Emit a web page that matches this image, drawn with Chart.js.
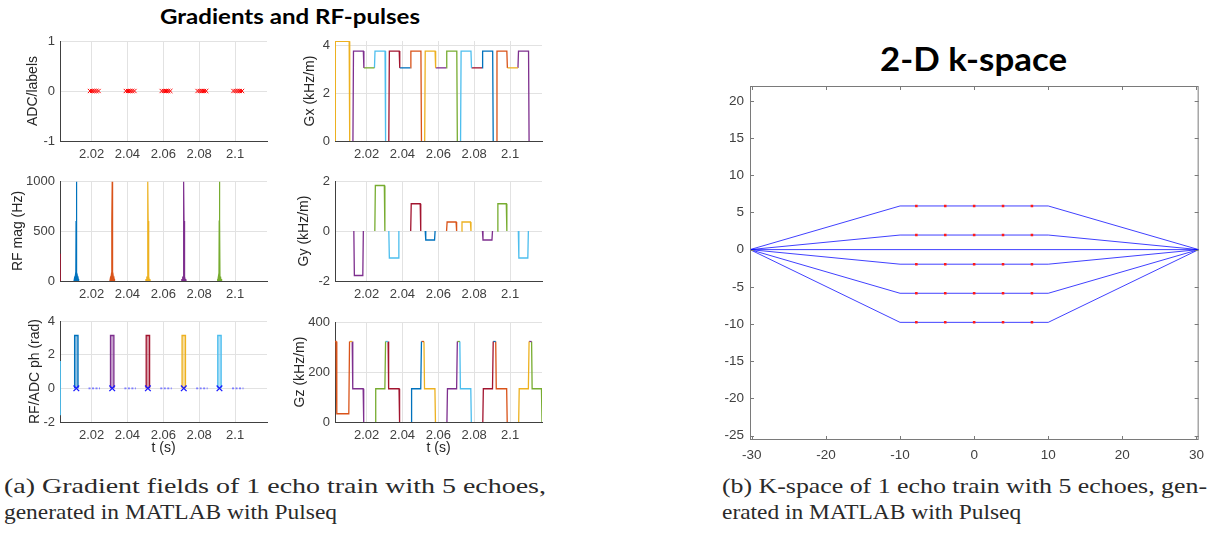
<!DOCTYPE html>
<html>
<head>
<meta charset="utf-8">
<script src="https://cdn.jsdelivr.net/npm/chart.js@4.4.1/dist/chart.umd.min.js"></script>
<style>
  body { margin: 0; background: #fff; width: 1214px; height: 539px; position: relative; overflow: hidden; }
  canvas { position: absolute; }
  .txt { position: absolute; white-space: nowrap; transform-origin: left top; line-height: 1; }
  .ttl { font-family: Lato, 'Open Sans', sans-serif; font-weight: 700; color: #000; }
  .cap { font-family: 'Liberation Serif', 'Times New Roman', Times, serif; color: #2a2a2a; }
</style>
</head>
<body>
<div class="txt ttl" id="title1" style="left:160px; top:6px; font-size:20.4px">Gradients and RF-pulses</div>
<div class="txt ttl" id="title2" style="left:880px; top:43px; font-size:32.4px">2-D k-space</div>
<div class="txt cap" id="capA1" style="left:4px; top:476px; font-size:21.5px">(a) Gradient fields of 1 echo train with 5 echoes,</div>
<div class="txt cap" id="capA2" style="left:4px; top:502px; font-size:21.5px">generated in MATLAB with Pulseq</div>
<div class="txt cap" id="capB1" style="left:722px; top:476px; font-size:21.5px">(b) K-space of 1 echo train with 5 echoes, gen-</div>
<div class="txt cap" id="capB2" style="left:722px; top:502px; font-size:21.5px">erated in MATLAB with Pulseq</div>

<script>
// ---- colours (MATLAB default order) ----
const BLUE = '#0072BD', ORANGE = '#D95319', YELLOW = '#EDB120', PURPLE = '#7E2F8E',
      GREEN = '#77AC30', LBLUE = '#4DBEEE', DRED = '#A2142F';

// ---- shared time axis ----
const timeRange = [2.0024, 2.1178];
const timeTicks = [2.02, 2.04, 2.06, 2.08, 2.1];

// ---- ADC panel ----
const adcTicks = [-1, 0, 1];
const adcTimes = [
  2.0191, 2.0203, 2.0215, 2.0227, 2.0239,
  2.0391, 2.0403, 2.0415, 2.0427, 2.0439,
  2.0591, 2.0603, 2.0615, 2.0627, 2.0639,
  2.0791, 2.0803, 2.0815, 2.0827, 2.0839,
  2.0991, 2.1003, 2.1015, 2.1027, 2.1039
];
const adcWindows = [[2.0183, 2.0247], [2.0383, 2.0447], [2.0583, 2.0647], [2.0783, 2.0847], [2.0983, 2.1047]];

// ---- RF magnitude panel ----
const rfMagTicks = [0, 500, 1000];
const rfCenters = [2.0115, 2.0315, 2.0514, 2.0714, 2.0913];
const rfMagColors = [BLUE, ORANGE, YELLOW, PURPLE, GREEN];
const rfPulseDt  = [-0.0013, -0.0011, -0.0009, -0.0006, -0.0003, -0.00015, 0, 0.00015, 0.0003, 0.0006, 0.0009, 0.0011, 0.0013];
const rfPulseAmp = [0, 20, 0, 45, 0, 600, 992, 600, 0, 45, 0, 20, 0];
const rfExcTail = [[2.0024, 272], [2.0025, 0]];

// ---- RF / ADC phase panel ----
const rfPhTicks = [-2, 0, 2, 4];
const rfPhColors = [BLUE, PURPLE, DRED, YELLOW, LBLUE];
const phaseTop = 3.14;
const phaseHalfWidth = 0.00095;
const excPhase = [[2.0025, 1.62], [2.0025, -1.6]];

// ---- Gx panel ----
const gxTicks = [0, 2, 4];
const gxSegs = [
  { c: YELLOW, pts: [[2.0025, 0], [2.0026, 4.16], [2.0103, 4.16], [2.0106, 0]] },
  { c: PURPLE, pts: [[2.0124, 0], [2.0127, 3.75], [2.0182, 3.75], [2.0185, 3.05]] },
  { c: GREEN,  pts: [[2.0185, 3.05], [2.0244, 3.05]] },
  { c: LBLUE,  pts: [[2.0244, 3.05], [2.0247, 3.75], [2.0303, 3.75], [2.0306, 0]] },
  { c: DRED,   pts: [[2.0324, 0], [2.0327, 3.75], [2.0382, 3.75], [2.0385, 3.05]] },
  { c: BLUE,   pts: [[2.0385, 3.05], [2.0444, 3.05]] },
  { c: ORANGE, pts: [[2.0444, 3.05], [2.0447, 3.75], [2.0503, 3.75], [2.0506, 0]] },
  { c: YELLOW, pts: [[2.0524, 0], [2.0527, 3.75], [2.0582, 3.75], [2.0585, 3.05]] },
  { c: PURPLE, pts: [[2.0585, 3.05], [2.0644, 3.05]] },
  { c: GREEN,  pts: [[2.0644, 3.05], [2.0647, 3.75], [2.0703, 3.75], [2.0706, 0]] },
  { c: LBLUE,  pts: [[2.0724, 0], [2.0727, 3.75], [2.0782, 3.75], [2.0785, 3.05]] },
  { c: DRED,   pts: [[2.0785, 3.05], [2.0844, 3.05]] },
  { c: BLUE,   pts: [[2.0844, 3.05], [2.0847, 3.75], [2.0903, 3.75], [2.0906, 0]] },
  { c: ORANGE, pts: [[2.0924, 0], [2.0927, 3.75], [2.0982, 3.75], [2.0985, 3.05]] },
  { c: YELLOW, pts: [[2.0985, 3.05], [2.1044, 3.05]] },
  { c: PURPLE, pts: [[2.1044, 3.05], [2.1047, 3.75], [2.1103, 3.75], [2.1106, 0]] }
];

// ---- Gy panel ----
const gyTicks = [-2, 0, 2];
const gySegs = [
  { c: PURPLE, pts: [[2.0129, 0], [2.0132, -1.78], [2.0179, -1.78], [2.0182, 0]] },
  { c: GREEN,  pts: [[2.0246, 0], [2.0249, 1.82], [2.0299, 1.82], [2.0302, 0]] },
  { c: LBLUE,  pts: [[2.0324, 0], [2.0327, -1.08], [2.0377, -1.08], [2.0380, 0]] },
  { c: DRED,   pts: [[2.0446, 0], [2.0449, 1.09], [2.0499, 1.09], [2.0502, 0]] },
  { c: BLUE,   pts: [[2.0527, 0], [2.0530, -0.36], [2.0579, -0.36], [2.0582, 0]] },
  { c: ORANGE, pts: [[2.0646, 0], [2.0649, 0.36], [2.0699, 0.36], [2.0702, 0]] },
  { c: YELLOW, pts: [[2.0729, 0], [2.0732, 0.36], [2.0779, 0.36], [2.0782, 0]] },
  { c: PURPLE, pts: [[2.0846, 0], [2.0849, -0.36], [2.0899, -0.36], [2.0902, 0]] },
  { c: GREEN,  pts: [[2.0929, 0], [2.0932, 1.09], [2.0979, 1.09], [2.0982, 0]] },
  { c: LBLUE,  pts: [[2.1046, 0], [2.1049, -1.08], [2.1099, -1.08], [2.1102, 0]] }
];

// ---- Gz panel ----
const gzTicks = [0, 200, 400];
const gzSegs = [
  { c: ORANGE, pts: [[2.0024, 322], [2.0030, 322], [2.0034, 33], [2.0101, 33], [2.0105, 322], [2.0106, 322]] },
  { c: YELLOW, pts: [[2.0106, 322], [2.0120, 322]] },
  { c: PURPLE, pts: [[2.0120, 322], [2.0123, 133], [2.0181, 133], [2.0184, 0]] },
  { c: GREEN,  pts: [[2.0248, 0], [2.0251, 133], [2.0302, 133], [2.0306, 322]] },
  { c: LBLUE,  pts: [[2.0306, 322], [2.0320, 322]] },
  { c: DRED,   pts: [[2.0320, 322], [2.0323, 133], [2.0381, 133], [2.0384, 0]] },
  { c: BLUE,   pts: [[2.0448, 0], [2.0451, 133], [2.0502, 133], [2.0506, 322]] },
  { c: ORANGE, pts: [[2.0506, 322], [2.0520, 322]] },
  { c: YELLOW, pts: [[2.0520, 322], [2.0523, 133], [2.0581, 133], [2.0584, 0]] },
  { c: PURPLE, pts: [[2.0648, 0], [2.0651, 133], [2.0702, 133], [2.0706, 322]] },
  { c: GREEN,  pts: [[2.0706, 322], [2.0720, 322]] },
  { c: LBLUE,  pts: [[2.0720, 322], [2.0723, 133], [2.0781, 133], [2.0784, 0]] },
  { c: DRED,   pts: [[2.0848, 0], [2.0851, 133], [2.0902, 133], [2.0906, 322]] },
  { c: BLUE,   pts: [[2.0906, 322], [2.0920, 322]] },
  { c: ORANGE, pts: [[2.0920, 322], [2.0923, 133], [2.0981, 133], [2.0984, 0]] },
  { c: YELLOW, pts: [[2.1048, 0], [2.1051, 133], [2.1102, 133], [2.1106, 322]] },
  { c: PURPLE, pts: [[2.1106, 322], [2.1120, 322]] },
  { c: GREEN,  pts: [[2.1120, 322], [2.1123, 133], [2.1175, 133], [2.1178, 0]] }
];

// ---- k-space ----
const kxTicks = [-30, -20, -10, 0, 10, 20, 30];
const kyTicks = [-25, -20, -15, -10, -5, 0, 5, 10, 15, 20];
const kxRange = [-30.25, 30.3];
const kyRange = [-25.6, 22];
const kxCorners = [-30.25, -10, 10, 30.3];
const kyRows = [5.87, 1.96, 0, -1.96, -5.87, -9.78];
const kyRowsSampled = [5.87, 1.96, -1.96, -5.87, -9.78];
const kxSamples = [-7.8, -3.9, 0, 3.9, 7.8];

// =================================================================
Chart.defaults.font.family = "'Liberation Sans', Arial, sans-serif";
Chart.defaults.color = '#404040';

const AXIS = '#404040';
const GRID = '#e2e2e2';

function addCanvas(left, top, w, h) {
  const c = document.createElement('canvas');
  c.width = w; c.height = h;
  c.style.left = left + 'px'; c.style.top = top + 'px';
  c.style.width = w + 'px'; c.style.height = h + 'px';
  document.body.appendChild(c);
  return c;
}

function segSets(segs) {
  return segs.map(s => ({
    data: s.pts.map(p => ({ x: p[0], y: p[1] })),
    borderColor: s.c, borderWidth: 1.3, pointRadius: 0, fill: false, tension: 0
  }));
}

// one small MATLAB-style subplot; rect is the plot area in page pixels
function makePanel(rect, yMin, yMax, yTicks, yTitle, titleX, datasets, xTitle) {
  const [x0, y0, x1, y1] = rect;
  const padL = 60, padT = 16, padR = 8, xH = 40;
  const w = (x1 - x0) + padL + padR, h = (y1 - y0) + padT + xH;
  const canvas = addCanvas(x0 - padL, y0 - padT, w, h);
  return new Chart(canvas, {
    type: 'line',
    data: { datasets },
    options: {
      responsive: false, animation: false, events: [],
      layout: { padding: { left: 0, top: padT, right: padR, bottom: 0 } },
      plugins: { legend: { display: false }, tooltip: { enabled: false } },
      scales: {
        x: {
          type: 'linear', min: timeRange[0], max: timeRange[1],
          afterBuildTicks: s => { s.ticks = timeTicks.map(v => ({ value: v })); },
          afterFit: s => { s.height = xH; },
          ticks: { autoSkip: false, maxRotation: 0, padding: 6, font: { size: 13 }, callback: v => String(Math.round(v * 100) / 100) },
          grid: { color: GRID, drawTicks: false },
          border: { display: true, color: AXIS, width: 1 },
          title: { display: !!xTitle, text: xTitle || '', color: '#262626', font: { size: 14 }, padding: { top: 0, bottom: 5 } }
        },
        y: {
          type: 'linear', min: yMin, max: yMax,
          afterBuildTicks: s => { s.ticks = yTicks.map(v => ({ value: v })); },
          afterFit: s => { s.width = padL; },
          ticks: { padding: 5, font: { size: 13 }, callback: v => String(v) },
          grid: { color: GRID, drawTicks: false },
          border: { display: true, color: AXIS, width: 1 },
          title: { display: true, text: yTitle, color: '#262626', font: { size: 14 }, padding: { top: titleX - 8.4, bottom: 0 } }
        }
      }
    }
  });
}

// ---- ADC ----
makePanel([60, 41, 267, 141], -1, 1, adcTicks, 'ADC/labels', 33, [{
  data: adcTimes.map(t => ({ x: t, y: 0 })),
  showLine: false, pointStyle: 'crossRot', pointRadius: 3, borderColor: '#ff0000', borderWidth: 1
}]);

// ---- Gx ----
makePanel([335, 41, 542, 141], 0, 4.17, gxTicks, 'Gx (kHz/m)', 35, segSets(gxSegs));

// ---- RF magnitude ----
const rfMagSets = rfCenters.map((tc, i) => ({
  data: rfPulseDt.map((d, j) => ({ x: tc + d, y: rfPulseAmp[j] })),
  borderColor: rfMagColors[i], borderWidth: 1.2, pointRadius: 0, tension: 0
}));
rfMagSets.unshift({ data: rfExcTail.map(p => ({ x: p[0], y: p[1] })), borderColor: DRED, borderWidth: 1.3, pointRadius: 0 });
makePanel([60, 181, 267, 281], 0, 1000, rfMagTicks, 'RF mag (Hz)', 18.3, rfMagSets);

// ---- Gy ----
makePanel([335, 181, 542, 281], -2, 2, gyTicks, 'Gy (kHz/m)', 29, segSets(gySegs));

// ---- RF / ADC phase ----
const rfPhSets = [{ data: excPhase.map(p => ({ x: p[0], y: p[1] })), borderColor: LBLUE, borderWidth: 1.5, pointRadius: 0 }];
rfCenters.forEach((tc, i) => {
  rfPhSets.push({
    data: [[tc - phaseHalfWidth, 0], [tc - phaseHalfWidth, phaseTop], [tc + phaseHalfWidth, phaseTop], [tc + phaseHalfWidth, 0]]
      .map(p => ({ x: p[0], y: p[1] })),
    borderColor: rfPhColors[i], borderWidth: 1.3, pointRadius: 0, tension: 0,
    fill: 'origin', backgroundColor: rfPhColors[i] + '70'
  });
});
adcWindows.forEach(wd => {
  rfPhSets.push({
    data: [{ x: wd[0], y: 0 }, { x: wd[1], y: 0 }],
    borderColor: '#7b7bff', borderWidth: 1.6, borderDash: [2, 1.5], pointRadius: 0
  });
});
rfPhSets.push({
  data: rfCenters.map(t => ({ x: t, y: 0 })), order: -1,
  showLine: false, pointStyle: 'crossRot', pointRadius: 4, borderColor: '#1a1aff', borderWidth: 1.3
});
makePanel([60, 321, 267, 422], -2, 4, rfPhTicks, 'RF/ADC ph (rad)', 35.3, rfPhSets, 't (s)');

// ---- Gz ----
makePanel([335, 322, 542, 422], 0, 400, gzTicks, 'Gz (kHz/m)', 25, segSets(gzSegs), 't (s)');

// ---- k-space ----
const boxTicks = {
  id: 'boxTicks',
  afterDraw(chart) {
    const { ctx, chartArea: a, scales: { x, y } } = chart;
    const L = 4;
    ctx.save();
    ctx.strokeStyle = '#7a7a7a';
    ctx.lineWidth = 1;
    ctx.strokeRect(a.left + 0.5, a.top + 0.5, a.right - a.left - 1, a.bottom - a.top - 1);
    ctx.beginPath();
    x.ticks.forEach(t => {
      const px = Math.round(x.getPixelForValue(t.value)) + 0.5;
      ctx.moveTo(px, a.bottom); ctx.lineTo(px, a.bottom - L);
      ctx.moveTo(px, a.top); ctx.lineTo(px, a.top + L);
    });
    y.ticks.forEach(t => {
      const py = Math.round(y.getPixelForValue(t.value)) + 0.5;
      ctx.moveTo(a.left, py); ctx.lineTo(a.left + L, py);
      ctx.moveTo(a.right, py); ctx.lineTo(a.right - L, py);
    });
    ctx.stroke();
    ctx.restore();
  }
};

const kSets = kyRows.map(ky => ({
  data: (ky === 0 ? [[kxCorners[0], 0], [kxCorners[3], 0]]
                  : [[kxCorners[0], 0], [kxCorners[1], ky], [kxCorners[2], ky], [kxCorners[3], 0]])
        .map(p => ({ x: p[0], y: p[1] })),
  borderColor: 'rgba(0,0,255,0.75)', borderWidth: 1, pointRadius: 0, tension: 0
}));
const kDots = [];
kyRowsSampled.forEach(ky => kxSamples.forEach(kx => kDots.push({ x: kx, y: ky })));
kSets.push({ data: kDots, order: -1, showLine: false, pointStyle: 'rect', pointRadius: 1.8, backgroundColor: '#ff1a1a', borderWidth: 0 });

(function () {
  const [x0, y0, x1, y1] = [750, 86, 1199, 440];
  const padL = 50, padT = 16, padR = 12, xH = 35;
  const canvas = addCanvas(x0 - padL, y0 - padT, (x1 - x0) + padL + padR, (y1 - y0) + padT + xH);
  new Chart(canvas, {
    type: 'line',
    data: { datasets: kSets },
    options: {
      responsive: false, animation: false, events: [],
      layout: { padding: { left: 0, top: padT, right: padR, bottom: 0 } },
      plugins: { legend: { display: false }, tooltip: { enabled: false } },
      scales: {
        x: {
          type: 'linear', min: kxRange[0], max: kxRange[1],
          afterBuildTicks: s => { s.ticks = kxTicks.map(v => ({ value: v })); },
          afterFit: s => { s.height = xH; },
          ticks: { autoSkip: false, maxRotation: 0, padding: 7, font: { size: 13.5 }, callback: v => String(v) },
          grid: { display: false, drawTicks: false },
          border: { display: false }
        },
        y: {
          type: 'linear', min: kyRange[0], max: kyRange[1],
          afterBuildTicks: s => { s.ticks = kyTicks.map(v => ({ value: v })); },
          afterFit: s => { s.width = padL; },
          ticks: { padding: 6, font: { size: 13.5 }, callback: v => String(v) },
          grid: { display: false, drawTicks: false },
          border: { display: false }
        }
      }
    },
    plugins: [boxTicks]
  });
})();

// ---- fit titles / captions to the widths measured on the reference ----
function fitWidth(id, target) {
  const el = document.getElementById(id);
  el.style.transform = 'none';
  const w = el.getBoundingClientRect().width;
  el.style.transform = 'scaleX(' + (target / w) + ')';
  return target / w;
}
function fitAll() {
  fitWidth('title1', 260);
  fitWidth('title2', 187);
  fitWidth('capA1', 542);
  const s = fitWidth('capA2', 333);
  fitWidth('capB1', 485);
  document.getElementById('capB2').style.transform = 'scaleX(' + s + ')';
}
fitAll();
if (document.fonts && document.fonts.ready) document.fonts.ready.then(fitAll);
</script>
</body>
</html>
